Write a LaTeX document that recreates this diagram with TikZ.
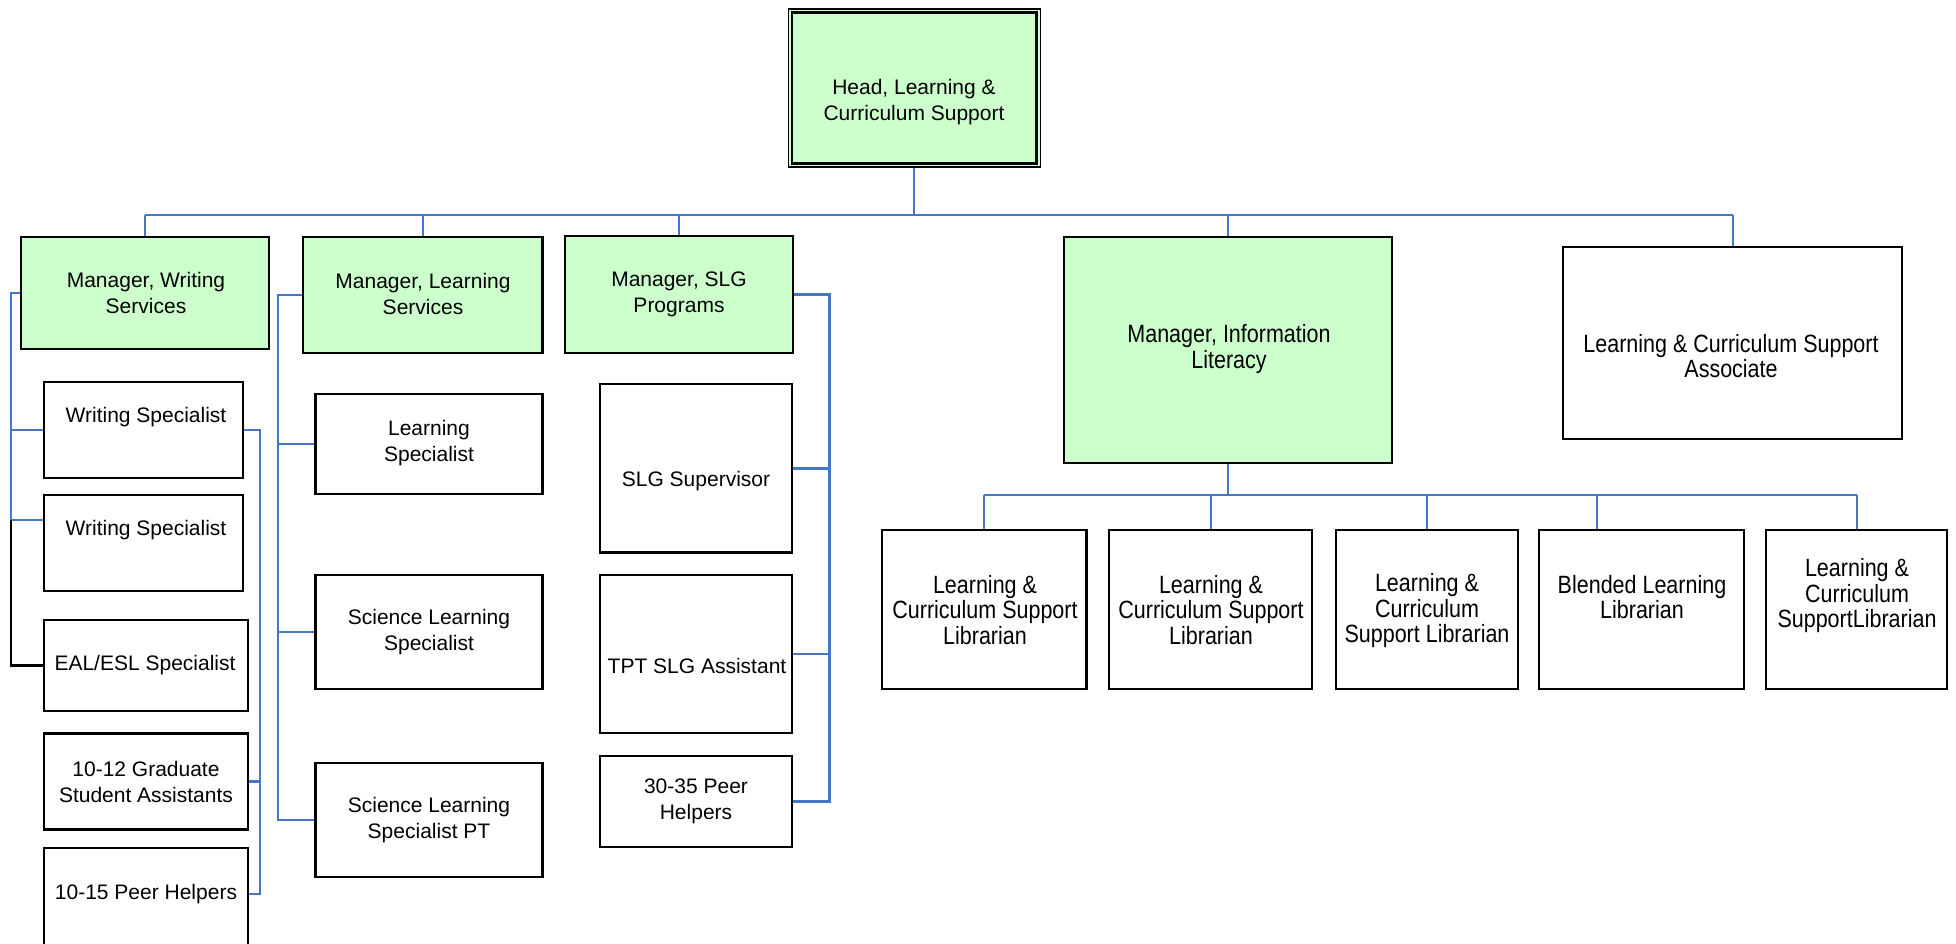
\documentclass[tikz,border=0pt]{standalone}
\usepackage{fontspec}
\setmainfont{Liberation Sans}
\newfontfamily\narrowfont[FakeStretch=0.86]{Liberation Sans}
\usetikzlibrary{calc}
\definecolor{linkblue}{RGB}{70,118,198}
\definecolor{mgrgreen}{RGB}{204,255,204}
\begin{document}
\begin{tikzpicture}[x=1pt,y=-1pt,
  box/.style={draw=black, line width=2.3pt, inner sep=0pt, fill=white},
  mgr/.style={box, fill=mgrgreen},
  txt/.style={align=center, inner sep=0pt, font=\fontsize{21}{26}\selectfont},
  ntxt/.style={align=center, inner sep=0pt, font=\narrowfont\fontsize{25}{25.5}\selectfont},
  link/.style={draw=linkblue, line width=2.2pt},
  blink/.style={draw=black, line width=2.2pt}]
\useasboundingbox (0,0) rectangle (1956,943);

% ---- boxes ----
\node[mgr, line width=1.6pt, minimum width=252, minimum height=158.5] (head) at (914.3,88) {};
\draw[line width=2.6pt] ([shift={(4.5,4.5)}]head.north west) rectangle ([shift={(-4.5,-4.5)}]head.south east);
\node[txt] (head-t) at (914,102) {Head, Learning \&\\Curriculum Support};

\node[mgr, minimum width=248, minimum height=112] (mw) at (145.3,293) {};
\node[txt] (mw-t) at (146,292.5) {Manager, Writing\\Services};
\node[mgr, minimum width=239.6, minimum height=116] (ml) at (422.8,295) {};
\node[txt] (ml-t) at (423,294) {Manager, Learning\\Services};
\node[mgr, minimum width=228, minimum height=117] (ms) at (679.2,294.4) {};
\node[txt] (ms-t) at (679,294) {Manager, SLG\\Programs};
\node[mgr, minimum width=328, minimum height=226] (mi) at (1228,350) {};
\node[ntxt] (mi-t) at (1229,349) {Manager, Information\\Literacy};
\node[box, minimum width=339, minimum height=192] (as) at (1732.6,343) {};
\node[ntxt] (as-t) at (1731,356) {Learning \& Curriculum Support\\Associate};

% writing column
\node[box, minimum width=199.5, minimum height=96] (ws1) at (143.5,429.7) {};
\node[txt] (ws1-t) at (146,417) {Writing Specialist};
\node[box, minimum width=199.5, minimum height=96] (ws2) at (143.5,543.3) {};
\node[txt] (ws2-t) at (146,530) {Writing Specialist};
\node[box, minimum width=204.5, minimum height=91] (eal) at (146,665.5) {};
\node[txt] (eal-t) at (145,665) {EAL/ESL Specialist};
\node[box, minimum width=204.5, minimum height=96] (gr) at (146,781.5) {};
\node[txt] (gr-t) at (146,781.5) {10-12 Graduate\\Student Assistants};
\node[box, minimum width=204.5, minimum height=100] (pe1) at (146,898) {};
\node[txt] (pe1-t) at (146,894) {10-15 Peer Helpers};

% learning column
\node[box, minimum width=227, minimum height=100] (ls) at (429,444) {};
\node[txt] (ls-t) at (429,443.5) {Learning\\Specialist};
\node[box, minimum width=227, minimum height=113.5] (sls) at (429,632) {};
\node[txt] (sls-t) at (429,632) {Science Learning\\Specialist};
\node[box, minimum width=227, minimum height=113.5] (slp) at (429,820) {};
\node[txt] (slp-t) at (429,820) {Science Learning\\Specialist PT};

% SLG column
\node[box, minimum width=192, minimum height=168.4] (sup) at (696,468.4) {};
\node[txt] (sup-t) at (696,481.5) {SLG Supervisor};
\node[box, minimum width=192, minimum height=158.5] (tpt) at (696,654) {};
\node[txt] (tpt-t) at (697,666) {TPT SLG Assistant};
\node[box, minimum width=192, minimum height=91] (p30) at (696,801.5) {};
\node[txt] (p30-t) at (696,801.5) {30-35 Peer\\Helpers};

% information literacy row
\node[box, minimum width=204.6, minimum height=158.5] (l1) at (984.2,609.4) {};
\node[ntxt] (l1-t) at (985,610) {Learning \&\\Curriculum Support\\Librarian};
\node[box, minimum width=203.3, minimum height=158.5] (l2) at (1210.6,609.4) {};
\node[ntxt] (l2-t) at (1211,610) {Learning \&\\Curriculum Support\\Librarian};
\node[box, minimum width=182, minimum height=158.5] (l3) at (1427,609.4) {};
\node[ntxt] (l3-t) at (1427,611) {Learning \&\\Curriculum\\Support Librarian};
\node[box, minimum width=204.6, minimum height=158.5] (bl) at (1641.6,609.4) {};
\node[ntxt] (bl-t) at (1642,597) {Blended Learning\\Librarian};
\node[box, minimum width=181, minimum height=158.5] (l5) at (1856.7,609.4) {};
\node[ntxt] (l5-t) at (1857,596) {Learning \&\\Curriculum\\SupportLibrarian};

% ---- connectors ----
\coordinate (bus) at (914,214.6);
\draw[link] (head.south) -- (head.south |- bus);
\draw[link] (mw.north |- bus) -- (as.north |- bus);
\foreach \n in {mw,ml,ms,mi,as} \draw[link] (\n.north |- bus) -- (\n.north);

% writing: left tree
\coordinate (wl) at (10.6,0);
\coordinate (ws2c) at ([yshift=-26pt]ws2.north west);
\draw[link] (mw.west) -- (mw.west -| wl) -- (ws2c -| wl);
\draw[link] (ws1.west) -- (ws1.west -| wl);
\draw[link] (ws2c) -- (ws2c -| wl);
\draw[blink] (ws2c -| wl) -- (eal.west -| wl) -- (eal.west);

% writing: right tree
\coordinate (wr) at (260,0);
\draw[link] (ws1.east) -- (ws1.east -| wr) -- (pe1-t -| wr) -- (pe1-t -| pe1.east);
\draw[link] (gr.east) -- (gr.east -| wr);

% learning tree
\coordinate (ll) at (277.6,0);
\draw[link] (ml.west) -- (ml.west -| ll) -- (slp.west -| ll) -- (slp.west);
\draw[link] (ls.west) -- (ls.west -| ll);
\draw[link] (sls.west) -- (sls.west -| ll);

% SLG tree
\coordinate (sr) at (829.5,0);
\draw[link] (ms.east) -- (ms.east -| sr) -- (p30.east -| sr) -- (p30.east);
\draw[link] (sup.east) -- (sup.east -| sr);
\draw[link] (tpt.east) -- (tpt.east -| sr);

% information literacy tree
\coordinate (ib) at (0,495.2);
\coordinate (bld) at (1596.7,495.2);
\draw[link] (mi.south) -- (mi.south |- ib);
\draw[link] (l1.north |- ib) -- (l5.north |- ib);
\foreach \n in {l1,l2,l3,l5} \draw[link] (\n.north |- ib) -- (\n.north);
\draw[link] (bld) -- (bld |- bl.north);
\end{tikzpicture}
\end{document}
